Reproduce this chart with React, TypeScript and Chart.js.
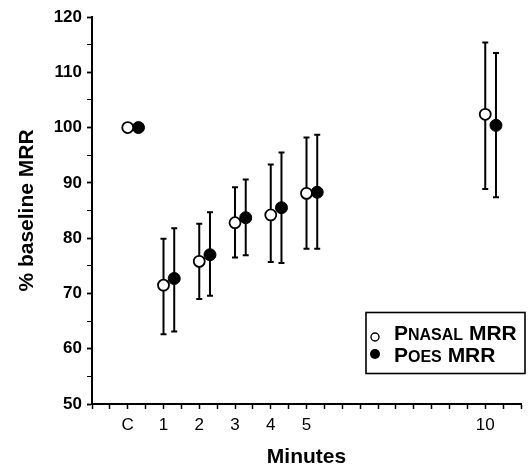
import React, { useEffect, useRef } from "react";
import { Chart, registerables } from "chart.js";

Chart.register(...registerables);

// ---- data ----
const categories = ["C", "1", "2", "3", "4", "5", "10"];
const minutes = [0, 1, 2, 3, 4, 5, 10];
const pnasalMean = [100, 71.5, 75.8, 82.8, 84.2, 88.1, 102.4];
const pnasalLow = [null, 62.6, 69.0, 76.5, 75.7, 78.1, 88.9];
const pnasalHigh = [null, 79.9, 82.6, 89.2, 93.3, 98.2, 115.4];
const poesMean = [100, 72.7, 77.0, 83.7, 85.5, 88.3, 100.4];
const poesLow = [null, 63.1, 69.6, 76.9, 75.5, 78.1, 87.4];
const poesHigh = [null, 81.8, 84.7, 90.6, 95.5, 98.7, 113.5];
const poesOffset = 0.3;
const yTicksMajor = [50, 60, 70, 80, 90, 100, 110, 120];
const legendParts = [
  [["P", "big"], ["NASAL", "small"], [" MRR", "big"]],
  [["P", "big"], ["OES", "small"], [" MRR", "big"]],
];

const FONT = "'Liberation Sans', Arial, Helvetica, sans-serif";

const errorBarPlugin = {
  id: "errorBars",
  beforeDatasetsDraw(chart: any) {
    const { ctx, scales } = chart;
    const xs = scales.x;
    const ys = scales.y;
    const series = [
      { x: minutes, lo: pnasalLow, hi: pnasalHigh, off: 0 },
      { x: minutes, lo: poesLow, hi: poesHigh, off: poesOffset },
    ];
    ctx.save();
    ctx.strokeStyle = "#000";
    ctx.lineWidth = 2;
    series.forEach((s) => {
      s.x.forEach((m, i) => {
        const lo = s.lo[i];
        const hi = s.hi[i];
        if (lo == null || hi == null) return;
        const px = xs.getPixelForValue(m + s.off);
        const pl = ys.getPixelForValue(lo);
        const ph = ys.getPixelForValue(hi);
        ctx.beginPath();
        ctx.moveTo(px, pl);
        ctx.lineTo(px, ph);
        ctx.moveTo(px - 3, pl);
        ctx.lineTo(px + 3, pl);
        ctx.moveTo(px - 3, ph);
        ctx.lineTo(px + 3, ph);
        ctx.stroke();
      });
    });
    ctx.restore();
  },
};

const legendPlugin = {
  id: "customLegend",
  afterDraw(chart: any) {
    const { ctx } = chart;
    ctx.save();
    ctx.strokeStyle = "#000";
    ctx.lineWidth = 1.6;
    ctx.strokeRect(366, 312.5, 159, 61);
    // markers
    ctx.beginPath();
    ctx.arc(375, 337, 4, 0, Math.PI * 2);
    ctx.fillStyle = "#fff";
    ctx.fill();
    ctx.lineWidth = 1.4;
    ctx.stroke();
    ctx.beginPath();
    ctx.arc(375, 354, 5, 0, Math.PI * 2);
    ctx.fillStyle = "#000";
    ctx.fill();
    // text
    ctx.fillStyle = "#000";
    ctx.textBaseline = "alphabetic";
    ctx.textAlign = "left";
    const baselines = [340, 362];
    legendParts.forEach((parts, r) => {
      let x = 394;
      parts.forEach(([t, kind]) => {
        ctx.font = `bold ${kind === "big" ? 21 : 16}px ${FONT}`;
        ctx.fillText(t, x, baselines[r]);
        x += ctx.measureText(t).width;
      });
    });
    ctx.restore();
  },
};

export default function App() {
  const ref = useRef<HTMLCanvasElement | null>(null);

  useEffect(() => {
    if (!ref.current) return;
    const chart = new Chart(ref.current, {
      type: "scatter",
      data: {
        datasets: [
          {
            label: "PNASAL MRR",
            data: minutes.map((m, i) => ({ x: m, y: pnasalMean[i] })),
            backgroundColor: "#fff",
            borderColor: "#000",
            borderWidth: 1.8,
            pointRadius: 5.5,
            pointHoverRadius: 5.5,
          },
          {
            label: "POES MRR",
            data: minutes.map((m, i) => ({ x: m + poesOffset, y: poesMean[i] })),
            backgroundColor: "#000",
            borderColor: "#000",
            borderWidth: 1,
            pointRadius: 6,
            pointHoverRadius: 6,
          },
        ],
      },
      options: {
        responsive: false,
        animation: false,
        events: [],
        layout: { padding: { top: 17, right: 9, left: 0, bottom: 0 } },
        plugins: {
          legend: { display: false },
          tooltip: { enabled: false },
        },
        scales: {
          x: {
            type: "linear",
            min: -1,
            max: 11,
            afterFit: (s: any) => {
              s.height = 66;
            },
            border: { display: true, color: "#000", width: 2 },
            grid: {
              display: true,
              drawOnChartArea: false,
              drawTicks: true,
              tickLength: 5,
              tickColor: "#000",
              tickWidth: 1.5,
            },
            ticks: {
              stepSize: 0.5,
              maxTicksLimit: 100,
              autoSkip: false,
              maxRotation: 0,
              padding: 6,
              color: "#000",
              font: { family: FONT, size: 17 },
              callback: (v: any) => {
                const idx = minutes.indexOf(Number(v));
                return idx >= 0 ? categories[idx] : "";
              },
            },
            title: {
              display: true,
              text: "Minutes",
              color: "#000",
              font: { family: FONT, size: 21, weight: "bold" },
              padding: { top: 0, bottom: 0 },
            },
          },
          y: {
            type: "linear",
            min: 50,
            max: 120,
            afterFit: (s: any) => {
              s.width = 92;
            },
            border: { display: true, color: "#000", width: 2 },
            grid: {
              display: true,
              drawOnChartArea: false,
              drawTicks: true,
              tickLength: 5,
              tickColor: "#000",
              tickWidth: (c: any) =>
                c.tick && yTicksMajor.includes(c.tick.value) ? 1.8 : 1,
            },
            ticks: {
              stepSize: 5,
              maxTicksLimit: 100,
              autoSkip: false,
              padding: 5,
              color: "#000",
              font: { family: FONT, size: 17, weight: "bold" },
              callback: (v: any) =>
                yTicksMajor.includes(Number(v)) ? String(v) : "",
            },
            title: {
              display: true,
              text: "% baseline MRR",
              color: "#000",
              font: { family: FONT, size: 21, weight: "bold" },
              padding: { top: 15, bottom: 0 },
            },
          },
        },
      },
      plugins: [errorBarPlugin, legendPlugin],
    } as any);
    return () => chart.destroy();
  }, []);

  return (
    <div
      style={{
        position: "absolute",
        left: 0,
        top: 0,
        width: 530,
        height: 470,
        background: "#fff",
      }}
    >
      <canvas ref={ref} width={530} height={470} />
    </div>
  );
}
